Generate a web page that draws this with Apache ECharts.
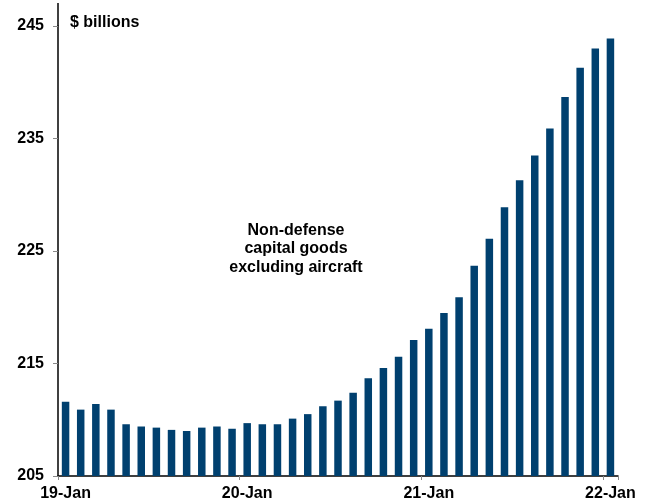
<!DOCTYPE html>
<html>
<head>
<meta charset="utf-8">
<script src="https://cdn.jsdelivr.net/npm/echarts@6/dist/echarts.min.js"></script>
<style>html,body{margin:0;padding:0;background:#fff}#c{width:645px;height:504px}</style>
</head>
<body>
<div id="c"></div>
<script>
const categories = [
  '19-Jan','19-Feb','19-Mar','19-Apr','19-May','19-Jun','19-Jul','19-Aug','19-Sep','19-Oct','19-Nov','19-Dec',
  '20-Jan','20-Feb','20-Mar','20-Apr','20-May','20-Jun','20-Jul','20-Aug','20-Sep','20-Oct','20-Nov','20-Dec',
  '21-Jan','21-Feb','21-Mar','21-Apr','21-May','21-Jun','21-Jul','21-Aug','21-Sep','21-Oct','21-Nov','21-Dec',
  '22-Jan'
];
const values = [
  211.6, 210.9, 211.4, 210.9, 209.6, 209.4, 209.3, 209.1, 209.0, 209.3, 209.4, 209.2,
  209.7, 209.6, 209.6, 210.1, 210.5, 211.2, 211.7, 212.4, 213.7, 214.6, 215.6, 217.1,
  218.1, 219.5, 220.9, 223.7, 226.1, 228.9, 231.3, 233.5, 235.9, 238.7, 241.3, 243.0,
  243.9
];
const yTicks = [205, 215, 225, 235, 245];
const unitLabel = '$ billions';
const annotation = 'Non-defense\ncapital goods\nexcluding aircraft';

const chart = echarts.init(document.getElementById('c'), null, {renderer: 'canvas'});
const font = 'Liberation Sans, Arial, sans-serif';
chart.setOption({
  animation: false,
  backgroundColor: '#ffffff',
  grid: {left: 58, right: 27, top: 26, bottom: 28, containLabel: false},
  xAxis: {
    type: 'category',
    data: categories,
    boundaryGap: true,
    axisLine: {lineStyle: {color: '#000', width: 1.5}},
    axisTick: {show: true, interval: 11, length: 4, lineStyle: {color: '#888'}},
    axisLabel: {
      interval: 11, margin: 10, color: '#000', fontFamily: font, fontWeight: 'bold', fontSize: 16,
      formatter: v => v
    },
    splitLine: {show: false}
  },
  yAxis: {
    type: 'value',
    min: yTicks[0], max: yTicks[yTicks.length - 1], interval: 10,
    axisLine: {show: true, lineStyle: {color: '#000', width: 1.5}},
    axisTick: {show: true, length: 5, lineStyle: {color: '#888'}},
    axisLabel: {margin: 14, color: '#000', fontFamily: font, fontWeight: 'bold', fontSize: 16},
    splitLine: {show: false}
  },
  series: [{
    type: 'bar',
    data: values,
    barWidth: 7.5,
    itemStyle: {color: '#00406F'}
  }],
  graphic: [
    {type: 'line', shape: {x1: 58, y1: 3, x2: 58, y2: 26}, style: {stroke: '#000', lineWidth: 1.5}},
    {type: 'text', left: 70, top: 15, style: {text: unitLabel, fill: '#000', font: 'bold 16px ' + font}},
    {type: 'text', x: 296, y: 221, style: {text: annotation, fill: '#000', font: 'bold 16px ' + font, textAlign: 'center', lineHeight: 18.5}}
  ]
});
</script>
</body>
</html>
